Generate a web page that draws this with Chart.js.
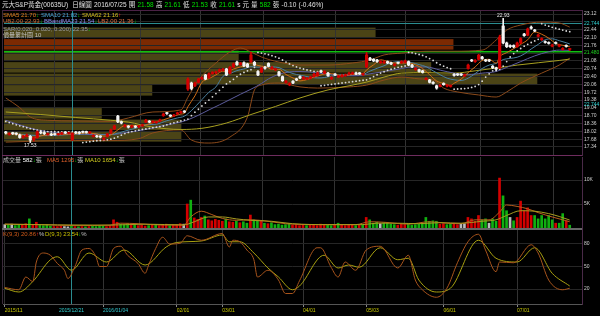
<!DOCTYPE html>
<html lang="zh-Hant">
<head>
<meta charset="UTF-8">
<title>元大S&amp;P黃金(00635U) 日線圖</title>
<script src="https://cdn.jsdelivr.net/npm/chart.js@4.4.6/dist/chart.umd.min.js"></script>
<style>
  * { box-sizing: border-box; margin: 0; padding: 0; }
  body {
    background: #000;
    width: 600px; height: 316px;
    overflow: hidden; position: relative;
    font-family: 'Liberation Sans', Arial, 'Noto Sans CJK TC', sans-serif;
    color: #ddd;
  }
  canvas { position: absolute; left: 0; }
  .t { position: absolute; white-space: nowrap; line-height: 1; }
  .hdr {
    position: absolute; left: 2px; top: 2px;
    display: flex; gap: 2.2px; white-space: nowrap;
    font-size: 6.5px; line-height: 1; color: #e0e0e0;
  }
  .g { color: #00e000; }
  .lg { font-size: 6px; }
  .ax { font-size: 5px; }
  .dn { color: #00c000; }
  .up { color: #ff2020; }
  .ln { position: absolute; }
</style>
</head>
<body>
<canvas id="cPrice" width="600" height="160" style="top:0"></canvas>
<canvas id="cVol" width="600" height="73" style="top:156px"></canvas>
<canvas id="cKD" width="600" height="87" style="top:229px"></canvas>

<!-- panel frame lines -->
<div class="ln" style="left:2px;top:10px;width:580px;height:1px;background:#4a2245"></div>
<div class="ln" style="left:2px;top:10px;width:1px;height:294px;background:#3a2a3a"></div>
<div class="ln" style="left:2px;top:155px;width:580px;height:1px;background:#6e2c5e"></div>
<div class="ln" style="left:2px;top:228px;width:580px;height:2px;background:#666"></div>

<!-- header -->
<div class="hdr">
  <span>元大S&amp;P黃金(00635U)</span>
  <span style="margin-left:2px">日線圖</span>
  <span>2016/07/25</span>
  <span>開</span><span class="g">21.58</span>
  <span>高</span><span class="g">21.61</span>
  <span>低</span><span class="g">21.53</span>
  <span>收</span><span class="g">21.61</span>
  <span>s 元</span>
  <span>量</span><span class="g">582</span><span>張</span>
  <span>-0.10</span>
  <span>(-0.46%)</span>
</div>

<!-- price legends -->
<span class="t lg" style="left:3px;top:12px;color:#e0801c">SMA5 21.70<span class="dn">↓</span></span>
<span class="t lg" style="left:41px;top:12px;color:#49a3d6">SMA10 21.82<span class="dn">↓</span></span>
<span class="t lg" style="left:82px;top:12px;color:#d6c020">SMA62 21.16<span class="up">↑</span></span>
<span class="t lg" style="left:3px;top:18px;color:#d06a30">UB2.00 22.93<span class="dn">↓</span></span>
<span class="t lg" style="left:44px;top:18px;color:#8a8af0">BBandMA23 21.54<span class="dn">↓</span></span>
<span class="t lg" style="left:98px;top:18px;color:#e07040">LB2.00 21.36<span class="dn">↓</span></span>
<span class="t lg" style="left:3px;top:25.5px;color:#9a9a9a">SAR(0.020, 0.020, 0.200) 22.35<span class="dn">↓</span></span>
<span class="t lg" style="left:3px;top:32px;color:#c0c0c0">價量累計圖 10</span>

<!-- volume / KD legends -->
<span class="t lg" style="left:3px;top:157px;color:#c0c0c0">成交量 <span style="color:#fff">582</span><span class="dn">↓</span>張</span>
<span class="t lg" style="left:47px;top:157px;color:#e0602a">MA5 1295<span class="dn">↓</span><span style="color:#c0c0c0">張</span></span>
<span class="t lg" style="left:85px;top:157px;color:#d6d020">MA10 1654<span class="dn">↓</span><span style="color:#c0c0c0">張</span></span>
<span class="t lg" style="left:3px;top:231px;color:#d05a18">K(9,3) 20.86<span class="up">↑</span><span style="color:#c0c0c0">%</span></span>
<span class="t lg" style="left:45px;top:231px;color:#c8c000">D(9,3) 23.54<span class="dn">↓</span><span style="color:#c0c0c0">%</span></span>

<!-- cursor / marker axis labels -->
<span class="t ax" style="left:584px;top:20.5px;color:#30d0d0">22.744</span>
<span class="t ax" style="left:584px;top:50px;color:#20d020">21.480</span>
<span class="t ax" style="left:584px;top:101.5px;color:#30d0d0">22.744</span>
<span class="t ax" style="left:59px;top:308px;color:#30d0d0">2015/12/21</span>

<script>
// ── Data ─────────────────────────────────────────────────────────────────────
const N = 165;                     // slots on the time axis (last 3 empty)
const tickIdx = [0, 28, 49, 62, 85, 103, 125, 146];
const tickLabels = ['2015/11', '2016/01/04', '02/01', '03/01', '04/01', '05/03', '06/01', '07/01'];
const cursorIdx = 19;
const cursorPrice = 22.744;
const markPrice = 21.48;

const opens = [17.98,17.88,17.95,17.93,17.86,17.76,17.80,17.80,17.66,17.75,
 17.99,17.96,17.88,17.90,17.90,17.87,17.90,17.97,17.93,17.66,
 17.97,17.96,18.00,18.00,17.95,17.80,17.82,17.80,17.68,17.80,
 17.95,18.12,18.68,18.44,18.24,18.24,18.21,18.24,18.21,18.26,
 18.42,18.46,18.42,18.40,18.47,18.70,18.82,18.71,18.69,18.78,
 18.83,18.89,19.86,20.12,20.00,20.15,20.30,20.47,20.35,20.53,
 20.56,20.63,20.66,20.73,20.55,20.82,21.03,20.92,21.00,20.95,
 21.05,21.02,20.62,20.60,20.80,20.97,20.74,20.69,20.60,20.40,
 20.14,20.04,20.20,20.30,20.40,20.30,20.29,20.33,20.40,20.45,
 20.65,20.55,20.55,20.30,20.50,20.38,20.40,20.44,20.50,20.52,
 20.56,20.55,20.48,20.82,21.20,21.15,21.12,21.00,21.00,21.05,
 21.00,20.89,21.00,21.00,21.02,21.05,20.90,20.70,20.70,20.65,
 20.28,20.25,20.15,20.00,19.98,20.10,19.98,19.97,20.50,20.50,
 20.50,20.43,20.75,21.12,21.05,21.15,21.25,21.12,21.12,20.85,
 20.78,20.77,22.60,21.86,21.75,21.75,21.70,21.86,22.25,22.20,
 22.55,22.42,22.15,22.00,21.92,21.88,21.72,21.88,21.72,21.58,
 21.75,21.58];
const closes = [17.95,17.92,17.92,17.90,17.75,17.80,17.86,17.64,17.73,18.00,
 17.95,17.92,17.90,17.86,17.88,17.90,17.95,17.95,17.95,17.93,
 17.95,17.94,17.98,17.97,17.98,17.83,17.78,17.77,17.71,17.90,
 18.08,18.25,18.43,18.38,18.28,18.20,18.25,18.20,18.25,18.30,
 18.50,18.42,18.45,18.43,18.51,18.77,18.79,18.68,18.72,18.82,
 18.86,18.86,20.29,19.88,20.12,20.29,20.35,20.29,20.52,20.58,
 20.60,20.69,20.72,20.47,20.80,20.95,20.92,20.98,20.86,20.82,
 21.34,20.90,20.47,20.77,20.76,20.85,20.80,20.72,20.45,20.22,
 20.20,20.10,20.12,20.25,20.34,20.36,20.32,20.38,20.50,20.56,
 20.60,20.62,20.44,20.36,20.47,20.42,20.46,20.47,20.55,20.56,
 20.51,20.52,20.51,21.34,21.12,21.08,21.05,21.05,21.04,20.99,
 20.95,20.92,20.98,21.05,21.08,20.90,20.82,20.75,20.62,20.58,
 20.32,20.15,20.10,19.90,20.02,20.05,20.02,20.00,20.45,20.47,
 20.47,20.47,20.90,21.08,21.10,21.33,21.18,21.08,21.08,20.78,
 20.72,22.12,21.86,21.70,21.70,21.69,21.86,22.05,22.18,22.47,
 22.50,22.38,22.21,22.05,21.88,21.84,21.77,21.84,21.77,21.62,
 21.71,21.61];
const highs = [18.02,17.96,17.98,17.96,17.90,17.84,17.90,17.84,17.78,18.04,
 18.03,17.99,17.94,17.93,17.92,17.93,17.98,17.99,17.98,17.96,
 18.00,17.99,18.03,18.03,18.01,17.87,17.85,17.83,17.75,17.93,
 18.12,18.29,18.72,18.47,18.32,18.27,18.29,18.27,18.28,18.33,
 18.54,18.49,18.48,18.46,18.55,18.81,18.85,18.74,18.76,18.86,
 18.90,18.92,20.35,20.16,20.16,20.33,20.39,20.50,20.56,20.62,
 20.64,20.73,20.76,20.76,20.84,20.99,21.07,21.02,21.04,20.98,
 21.45,21.06,20.66,20.81,20.84,21.00,20.84,20.76,20.63,20.43,
 20.24,20.14,20.23,20.33,20.43,20.40,20.36,20.42,20.54,20.60,
 20.68,20.66,20.58,20.40,20.53,20.46,20.50,20.51,20.59,20.60,
 20.59,20.58,20.55,21.45,21.24,21.18,21.15,21.09,21.08,21.08,
 21.03,20.96,21.03,21.09,21.12,21.08,20.93,20.79,20.73,20.68,
 20.36,20.28,20.18,20.03,20.06,20.13,20.06,20.04,20.53,20.53,
 20.53,20.51,20.94,21.15,21.14,21.37,21.28,21.15,21.15,20.88,
 20.81,22.20,22.93,21.90,21.78,21.78,21.90,22.09,22.28,22.51,
 22.60,22.45,22.25,22.09,21.95,21.91,21.81,21.91,21.81,21.66,
 21.78,21.61];
const lows = [17.90,17.85,17.88,17.86,17.72,17.72,17.77,17.53,17.60,17.72,
 17.91,17.88,17.85,17.83,17.85,17.85,17.88,17.92,17.90,17.62,
 17.92,17.90,17.95,17.94,17.92,17.77,17.75,17.73,17.64,17.77,
 17.92,18.10,18.40,18.34,18.20,18.16,18.18,18.17,18.18,18.23,
 18.40,18.39,18.39,18.37,18.44,18.67,18.75,18.65,18.66,18.75,
 18.80,18.83,19.80,19.82,19.96,20.12,20.27,20.26,20.32,20.50,
 20.53,20.60,20.63,20.44,20.52,20.79,20.88,20.89,20.83,20.79,
 21.02,20.87,20.44,20.57,20.72,20.82,20.71,20.66,20.42,20.19,
 20.11,20.00,20.09,20.22,20.31,20.27,20.26,20.30,20.37,20.42,
 20.57,20.52,20.41,20.27,20.44,20.35,20.37,20.41,20.47,20.49,
 20.48,20.49,20.45,20.78,21.09,21.05,21.02,20.97,20.97,20.96,
 20.92,20.86,20.95,20.97,20.99,20.87,20.79,20.67,20.59,20.55,
 20.25,20.12,20.07,19.85,19.95,20.02,19.95,19.94,20.42,20.44,
 20.44,20.40,20.72,21.05,21.02,21.12,21.15,21.05,21.05,20.74,
 20.68,20.74,21.82,21.66,21.66,21.65,21.67,21.83,22.15,22.17,
 22.46,22.35,22.12,21.97,21.85,21.81,21.69,21.81,21.69,21.55,
 21.68,21.53];
const volumes = [700,600,800,500,700,600,900,1900,700,1200,
 600,500,700,400,300,300,350,300,250,500,
 300,250,300,250,300,350,300,400,350,300,
 450,1700,1200,800,700,900,600,700,500,600,
 400,500,600,700,500,600,800,500,600,700,
 900,800,5000,5800,2100,1800,2200,2500,1700,1500,
 1800,1600,1400,1900,1300,1200,1400,1100,1300,1000,
 2700,1700,1600,1500,1000,900,1100,700,800,600,
 700,900,600,700,500,600,500,700,600,500,
 800,600,700,500,600,1000,600,500,700,600,
 500,600,700,2200,1700,1000,1200,900,1100,1000,
 800,700,600,800,700,900,600,700,800,900,
 2200,1400,1500,1400,800,900,700,800,1000,700,
 800,900,2200,1900,1400,2600,1700,1900,1000,1900,
 1400,10400,6700,3600,2200,1500,2200,5600,3600,4200,
 2600,2600,1900,2600,1900,2600,1700,1000,1000,3000,
 1500,582];
const sar = [18.45,18.40,18.35,18.30,18.26,18.22,18.18,18.14,18.10,18.07,18.05,18.03,18.01,
 18.00,18.00,17.99,17.99,17.99,17.99,17.99,17.99,17.99,
 17.53,17.55,17.57,17.59,17.61,17.62,17.63,17.65,17.68,17.72,
 17.78,17.85,17.92,17.97,18.01,18.04,18.07,18.10,18.12,18.15,
 18.18,18.20,18.22,18.25,18.30,18.35,18.39,18.43,18.47,18.51,
 18.55,18.70,18.85,18.98,19.12,19.25,19.38,19.52,19.66,19.80,
 19.94,20.08,20.18,20.28,20.40,20.50,20.58,20.65,20.70,20.80,
 21.45,21.42,21.39,21.35,21.31,21.26,21.20,21.12,21.03,20.95,
 20.88,20.82,20.77,20.73,20.69,20.66,20.63,20.61,
 20.00,20.02,20.04,20.06,20.08,20.10,20.12,20.14,20.16,20.18,
 20.20,20.22,20.24,20.26,20.32,20.40,20.48,20.55,20.61,20.67,
 20.72,20.76,20.80,20.83,20.86,
 21.45,21.43,21.40,21.36,21.32,21.26,21.18,21.10,21.00,20.92,
 20.85,20.79,20.74,
 19.85,19.86,19.87,19.88,19.90,19.93,19.97,20.05,20.20,20.38,
 20.52,20.65,20.66,20.72,20.85,21.05,21.25,21.40,21.52,21.62,
 21.72,21.80,21.88,21.95,22.02,
 22.70,22.64,22.59,22.54,22.50,22.46,22.42,22.38,22.35];

// indicator lines as [bar index, value]
const sma5 = [[0,17.92],[4,17.88],[8,17.76],[11,17.85],[15,17.89],[19,17.90],[23,17.95],[26,17.90],[28,17.81],[30,17.86],
 [32,18.08],[34,18.27],[37,18.27],[40,18.30],[43,18.44],[45,18.52],[47,18.62],[50,18.77],[51,18.80],[52,19.09],
 [54,19.56],[56,20.15],[58,20.31],[60,20.47],[62,20.64],[63,20.61],[65,20.73],[67,20.82],[69,20.91],[70,20.99],
 [72,20.88],[74,20.83],[76,20.72],[78,20.72],[80,20.49],[82,20.34],[84,20.21],[86,20.27],[88,20.38],[90,20.47],
 [92,20.54],[94,20.50],[96,20.43],[98,20.47],[100,20.51],[102,20.53],[103,20.69],[105,20.91],[107,21.13],[109,21.06],
 [111,20.99],[113,20.99],[115,20.99],[117,20.91],[119,20.75],[121,20.48],[123,20.21],[125,20.10],[127,20.02],[128,20.11],
 [130,20.29],[132,20.57],[134,20.82],[136,21.10],[138,21.15],[140,20.98],[141,21.26],[143,21.44],[145,21.61],[147,21.80],
 [149,22.00],[151,22.34],[153,22.24],[155,22.07],[157,21.84],[159,21.76],[161,21.70]];
const sma10 = [[0,17.93],[5,17.88],[10,17.83],[15,17.85],[20,17.90],[25,17.92],[28,17.87],[31,17.90],[34,18.03],[37,18.15],
 [40,18.30],[43,18.33],[46,18.48],[49,18.60],[51,18.68],[53,18.92],[56,19.40],[58,19.72],[60,19.95],[62,20.41],
 [64,20.53],[66,20.66],[68,20.73],[70,20.83],[72,20.81],[74,20.83],[76,20.82],[78,20.79],[80,20.64],[82,20.53],
 [84,20.46],[86,20.40],[88,20.35],[90,20.34],[92,20.39],[94,20.44],[96,20.48],[98,20.48],[100,20.49],[102,20.50],
 [104,20.64],[106,20.76],[108,20.87],[110,21.00],[112,21.05],[114,21.03],[116,21.00],[118,20.92],[120,20.83],[122,20.65],
 [124,20.48],[126,20.33],[128,20.26],[130,20.23],[132,20.33],[134,20.53],[136,20.75],[138,20.90],[140,20.97],[142,21.14],
 [144,21.19],[146,21.24],[148,21.38],[150,21.60],[152,21.80],[154,22.00],[156,22.04],[158,21.96],[160,21.87],[161,21.82]];
const bbMid = [[0,18.50],[5,18.25],[9,18.08],[15,17.95],[20,17.90],[25,17.88],[30,17.88],[35,17.98],[40,18.10],[45,18.27],
 [50,18.42],[52,18.52],[55,18.72],[58,18.95],[61,19.17],[64,19.40],[67,19.63],[70,19.85],[73,20.10],[75,20.30],
 [78,20.50],[81,20.60],[84,20.62],[88,20.58],[92,20.50],[96,20.44],[100,20.44],[104,20.52],[108,20.62],[112,20.72],
 [116,20.82],[120,20.82],[124,20.68],[128,20.55],[132,20.48],[136,20.55],[140,20.62],[143,20.80],[147,21.05],[151,21.30],
 [155,21.48],[158,21.55],[161,21.54]];
const sma62 = [[0,18.86],[10,18.75],[20,18.62],[30,18.50],[35,18.42],[42,18.20],[50,18.10],[56,18.15],[63,18.38],[70,18.75],
 [77,19.10],[84,19.47],[92,19.82],[98,20.00],[103,20.16],[108,20.38],[113,20.55],[120,20.57],[128,20.55],[134,20.65],
 [140,20.77],[146,20.90],[152,21.00],[158,21.10],[161,21.16]];
const bandUp = [[0,19.47],[4,19.05],[7,18.64],[12,18.50],[20,18.47],[30,18.45],[35,18.60],[42,18.86],[50,18.95],[52,19.50],
 [55,20.25],[60,20.99],[64,21.47],[67,21.64],[70,21.47],[73,21.25],[78,21.03],[84,20.90],[92,20.90],[99,20.99],
 [104,21.12],[108,21.34],[113,21.42],[120,21.50],[128,21.50],[136,21.55],[140,21.99],[143,22.42],[147,22.64],[153,22.77],
 [158,22.73],[161,22.55]];
const bandLow = [[0,17.55],[10,17.60],[20,17.62],[30,17.62],[38,17.70],[42,17.95],[50,18.08],[53,17.64],[58,17.51],[64,17.77],
 [69,18.64],[71,19.82],[73,20.03],[78,20.12],[84,19.95],[89,19.90],[98,19.95],[103,20.03],[108,20.25],[113,20.38],
 [118,20.30],[122,20.25],[125,19.90],[129,19.73],[135,19.60],[140,19.51],[143,19.73],[147,20.12],[153,20.55],[158,20.90],
 [161,21.20]];
const volMa5 = [[0,800],[10,700],[20,500],[30,600],[33,1000],[38,900],[45,600],[51,600],[53,2300],[56,3500],
 [59,2800],[62,2000],[66,1600],[70,1700],[74,1500],[80,900],[90,700],[100,700],[104,1300],[108,1200],
 [115,800],[121,1300],[126,1000],[130,900],[134,1700],[138,1700],[141,3300],[143,4800],[146,4500],[149,4000],
 [152,3200],[156,2300],[159,1700],[161,1295]];
const volMa10 = [[0,800],[15,650],[30,600],[40,800],[51,650],[54,1300],[58,2300],[62,2300],[66,1900],[70,1600],
 [76,1400],[82,900],[92,700],[102,700],[106,1000],[112,1000],[118,900],[124,1100],[130,1000],[136,1400],
 [140,1700],[143,2600],[147,3600],[151,3500],[155,3000],[158,2400],[161,1654]];
const kLine = [[0,22],[4,19],[6,36],[8,30],[9,56],[11,68],[13,65],[15,54],[17,45],[18,34],[20,50],[22,72],[24,74],
 [26,63],[27,50],[29,50],[31,74],[33,77],[35,65],[38,54],[40,41],[41,52],[43,74],[45,89],[47,80],[50,81],[52,91],
 [56,85],[62,94],[64,76],[65,85],[67,83],[69,72],[71,59],[72,36],[75,45],[78,32],[80,14],[82,14],[84,31],[89,75],
 [90,75],[93,49],[95,36],[97,56],[100,45],[103,72],[107,77],[112,48],[115,65],[117,32],[119,19],[123,9],[126,21],
 [129,55],[132,83],[135,93],[137,72],[140,43],[141,56],[145,55],[150,79],[152,68],[155,32],[159,19],[161,21]];
const dLine = [[0,21],[4,16],[8,30],[13,59],[15,63],[19,45],[24,68],[29,56],[34,72],[40,52],[46,76],[49,82],[56,84],
 [62,92],[64,83],[67,83],[71,68],[75,48],[78,36],[82,19],[84,24],[91,65],[95,48],[98,52],[101,49],[107,75],[112,59],
 [115,61],[118,32],[123,16],[127,21],[135,85],[140,61],[146,56],[151,75],[156,41],[161,24]];

// 價量累計圖: 10 price bins of 0.50, accumulated volume
const profileLow = [17.55, 18.05, 18.55, 19.05, 19.55, 20.05, 20.55, 21.05, 21.55, 22.05];
const profileVol = [15900, 15900, 6600, 0, 12500, 57500, 45100, 22600, 47700, 38600];
const profileStep = 0.5;
const profileMax = 57900;

const priceMin = 16.99, priceMax = 23.294;
const priceTicks = [23.12, 22.78, 22.44, 22.10, 21.76, 21.42, 21.08, 20.74, 20.40, 20.06,
                    19.72, 19.38, 19.04, 18.70, 18.36, 18.02, 17.68, 17.34];
const hiddenPriceTicks = [22.78, 21.42];   // replaced by the marker labels
const volMax = 14792;
const volTicks = [5000, 10000];
const kdTicks = [20, 50, 80];

// ── Helpers ──────────────────────────────────────────────────────────────────
Chart.defaults.font.family = "'Liberation Sans', Arial, sans-serif";
Chart.defaults.animation = false;

const RED = '#d40000', WHITE = '#f4f4f4', VGREEN = '#10b010';
const pts = pairs => pairs.map(([x, y]) => ({ x, y }));
const line = (data, color, order) => ({
  type: 'line', data: pts(data), borderColor: color, borderWidth: 1,
  pointRadius: 0, cubicInterpolationMode: 'monotone', order,
});
const candleColor = i => closes[i] >= opens[i] ? RED : WHITE;

function xAxis(showLabels) {
  return {
    type: 'linear', min: -0.5, max: N - 0.5, offset: false,
    afterBuildTicks: s => { s.ticks = tickIdx.map(v => ({ value: v })); },
    afterFit: s => { s.height = showLabels ? 12 : 0; s.paddingLeft = 0; s.paddingRight = 0; },
    grid: { color: '#333', drawTicks: showLabels, tickLength: 3, tickColor: '#888' },
    border: { display: showLabels, color: '#555' },
    ticks: {
      display: showLabels, autoSkip: false, maxRotation: 0, align: 'start', padding: 1,
      font: { size: 5 },
      color: c => c.index === 1 ? '#30c8d0' : '#c8c800',
      callback: (v, i) => tickLabels[i],
    },
  };
}

function yAxis(min, max, ticks, fmt) {
  return {
    position: 'right', min, max,
    afterBuildTicks: s => { s.ticks = ticks.map(v => ({ value: v })); },
    afterFit: s => { s.width = 18; s.paddingTop = 0; s.paddingBottom = 0; },
    grid: { color: '#262626', drawTicks: false },
    border: { color: '#4a2a48' },
    ticks: { color: '#cfcfcf', font: { size: 5 }, padding: 2, autoSkip: false, callback: fmt },
  };
}

const base = {
  responsive: false, events: [],
  layout: { padding: { left: 3, right: 0, top: 0, bottom: 0 } },
  plugins: { legend: { display: false }, tooltip: { enabled: false } },
};

// vertical cyan cursor, used on every panel
const cursorPlugin = {
  id: 'cursor',
  beforeDatasetsDraw(chart) {
    const { ctx, chartArea: a, scales: { x } } = chart;
    const px = Math.round(x.getPixelForValue(cursorIdx)) + 0.5;
    ctx.save();
    ctx.strokeStyle = '#2a8c90';
    ctx.lineWidth = 1;
    ctx.beginPath(); ctx.moveTo(px, a.top); ctx.lineTo(px, a.bottom); ctx.stroke();
    ctx.restore();
  },
};

// volume-by-price bars, marker lines and hi/lo labels on the price panel
const priceDeco = {
  id: 'priceDeco',
  beforeDraw(chart) {
    const { ctx, chartArea: a, scales: { y, vp } } = chart;
    const last = closes[closes.length - 1];
    ctx.save();
    profileLow.forEach((lo, k) => {
      if (!profileVol[k]) return;
      const top = y.getPixelForValue(lo + profileStep);
      const bot = y.getPixelForValue(lo);
      const cur = last >= lo && last < lo + profileStep;
      ctx.fillStyle = cur ? '#7c2a02' : '#4b4416';
      ctx.fillRect(a.left, top + 0.5, vp.getPixelForValue(profileVol[k]) - a.left, bot - top - 1);
    });
    ctx.restore();
  },
  beforeDatasetsDraw(chart) {
    const { ctx, chartArea: a, scales: { y } } = chart;
    ctx.save();
    const gy = y.getPixelForValue(markPrice);
    ctx.strokeStyle = '#10c010'; ctx.lineWidth = 1.6;
    ctx.beginPath(); ctx.moveTo(a.left, gy); ctx.lineTo(a.right, gy); ctx.stroke();
    const cy = Math.round(y.getPixelForValue(cursorPrice)) + 0.5;
    ctx.strokeStyle = '#2a8c90'; ctx.lineWidth = 1;
    ctx.beginPath(); ctx.moveTo(a.left, cy); ctx.lineTo(a.right, cy); ctx.stroke();
    ctx.restore();
  },
  afterDatasetsDraw(chart) {
    const { ctx, scales: { x, y } } = chart;
    const lo = lows.indexOf(Math.min(...lows));
    const hi = highs.indexOf(Math.max(...highs));
    ctx.save();
    ctx.font = "5px 'Liberation Sans', Arial";
    ctx.fillStyle = '#e8e8e8';
    ctx.textAlign = 'center';
    ctx.textBaseline = 'top';
    ctx.fillText(lows[lo].toFixed(2), x.getPixelForValue(lo), y.getPixelForValue(lows[lo]) + 1);
    ctx.textBaseline = 'bottom';
    ctx.fillText(highs[hi].toFixed(2), x.getPixelForValue(hi), y.getPixelForValue(highs[hi]) - 0.5);
    ctx.restore();
  },
};

// ── Price panel ──────────────────────────────────────────────────────────────
const idx = closes.map((_, i) => i);

new Chart(document.getElementById('cPrice'), {
  type: 'bar',
  data: {
    datasets: [
      line(bandUp, '#8c4a1a', 9),
      line(bandLow, '#8c4a1a', 9),
      line(sma62, '#a8a020', 8),
      line(bbMid, '#5c5c9c', 7),
      line(sma10, '#4a80a0', 6),
      line(sma5, '#d06c14', 5),
      {
        type: 'line', data: sar.map((v, i) => ({ x: i, y: v })), showLine: false,
        pointRadius: 0.9, pointBorderWidth: 0, pointBackgroundColor: '#d8d8d8', order: 4,
      },
      {
        data: idx.map(i => ({ x: i, y: [lows[i], highs[i]] })),
        backgroundColor: idx.map(candleColor), barThickness: 1, grouped: false, order: 2,
      },
      {
        data: idx.map(i => ({ x: i, y: [opens[i], closes[i]] })),
        backgroundColor: idx.map(candleColor), barThickness: 2.5, minBarLength: 1,
        grouped: false, order: 1,
      },
    ],
  },
  options: {
    ...base,
    layout: { padding: { left: 3, right: 0, top: 10, bottom: 5 } },
    scales: {
      x: xAxis(false),
      vp: { type: 'linear', axis: 'x', position: 'top', display: false, min: 0, max: profileMax },
      y: yAxis(priceMin, priceMax, priceTicks,
        v => hiddenPriceTicks.includes(v) ? '' : v.toFixed(2)),
    },
  },
  plugins: [priceDeco, cursorPlugin],
});

// ── Volume panel ─────────────────────────────────────────────────────────────
new Chart(document.getElementById('cVol'), {
  type: 'bar',
  data: {
    datasets: [
      line(volMa10, '#a89c20', 2),
      line(volMa5, '#b85c1c', 2),
      {
        data: volumes.map((v, i) => ({ x: i, y: v })),
        backgroundColor: idx.map(i => i === 0 || closes[i] === closes[i - 1] ? '#bbbbbb'
          : closes[i] > closes[i - 1] ? RED : VGREEN),
        barThickness: 2, grouped: false, order: 3,
      },
    ],
  },
  options: {
    ...base,
    layout: { padding: { left: 3, right: 0, top: 1, bottom: 1 } },
    scales: {
      x: xAxis(false),
      y: yAxis(0, volMax, volTicks, v => v / 1000 + 'K'),
    },
  },
  plugins: [cursorPlugin],
});

// ── KD panel + time axis ─────────────────────────────────────────────────────
new Chart(document.getElementById('cKD'), {
  type: 'line',
  data: {
    datasets: [
      line(dLine, '#a8a010', 2),
      line(kLine, '#a8541c', 1),
    ],
  },
  options: {
    ...base,
    scales: {
      x: xAxis(true),
      y: yAxis(0, 100, kdTicks, v => String(v)),
    },
  },
  plugins: [cursorPlugin],
});
</script>
</body>
</html>
